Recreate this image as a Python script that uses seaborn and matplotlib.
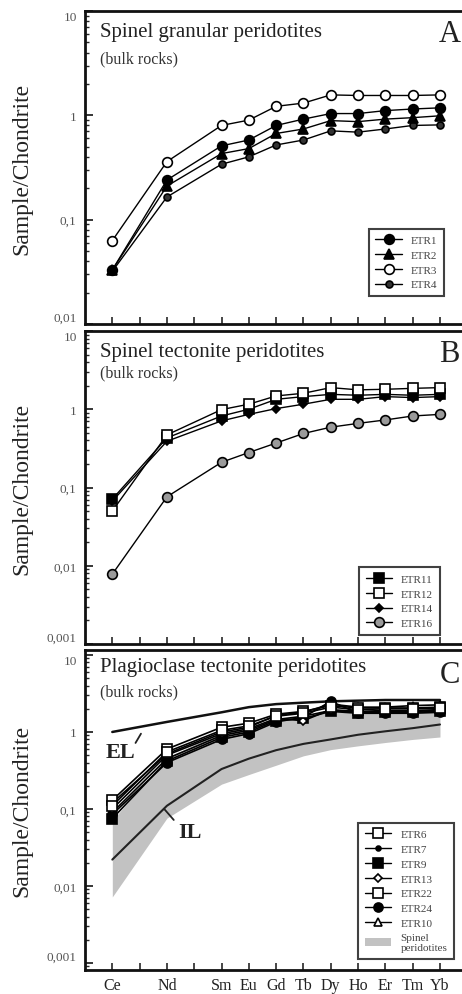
import matplotlib

matplotlib.use("Agg")
import matplotlib.pyplot as plt  # noqa: E402
from matplotlib.ticker import FixedLocator, FixedFormatter, LogLocator, NullFormatter  # noqa: E402
from matplotlib.patches import Patch  # noqa: E402
from matplotlib.lines import Line2D  # noqa: E402
import numpy as np
import pandas as pd
import seaborn as sns

# REE sequence (Pr and Pm have ticks but no data)
ree_all = ["Ce", "Pr", "Nd", "Pm", "Sm", "Eu", "Gd", "Tb", "Dy", "Ho", "Er", "Tm", "Yb"]
ree = ["Ce", "Nd", "Sm", "Eu", "Gd", "Tb", "Dy", "Ho", "Er", "Tm", "Yb"]

# Panel A - spinel granular peridotites
etr1 = [0.033, 0.24, 0.51, 0.58, 0.80, 0.92, 1.04, 1.04, 1.11, 1.15, 1.18]
etr2 = [0.033, 0.21, 0.43, 0.48, 0.67, 0.74, 0.89, 0.87, 0.92, 0.95, 0.99]
etr3 = [0.063, 0.36, 0.80, 0.90, 1.22, 1.31, 1.57, 1.55, 1.55, 1.55, 1.57]
etr4 = [0.032, 0.165, 0.34, 0.40, 0.52, 0.58, 0.71, 0.69, 0.74, 0.80, 0.81]

# Panel B - spinel tectonite peridotites
etr11 = [0.071, 0.43, 0.82, 1.00, 1.34, 1.45, 1.55, 1.51, 1.55, 1.51, 1.55]
etr12 = [0.050, 0.47, 0.99, 1.16, 1.48, 1.60, 1.89, 1.77, 1.80, 1.85, 1.89]
etr14 = [0.067, 0.39, 0.71, 0.86, 1.02, 1.16, 1.34, 1.34, 1.45, 1.41, 1.45]
etr16 = [0.0078, 0.076, 0.21, 0.28, 0.37, 0.49, 0.59, 0.66, 0.73, 0.82, 0.86]

# Panel C - plagioclase tectonite peridotites
etr6 = [0.13, 0.60, 1.15, 1.30, 1.70, 1.85, 2.20, 2.05, 2.05, 2.05, 2.10]
etr7 = [0.090, 0.45, 0.90, 1.05, 1.45, 1.60, 1.90, 1.80, 1.85, 1.85, 1.90]
etr9 = [0.075, 0.42, 0.85, 1.00, 1.40, 1.50, 1.85, 1.75, 1.80, 1.80, 1.85]
etr13 = [0.10, 0.50, 0.95, 1.10, 1.50, 1.40, 1.95, 1.85, 1.90, 1.90, 1.95]
etr22 = [0.11, 0.55, 1.05, 1.20, 1.60, 1.75, 2.10, 1.95, 2.00, 2.00, 2.05]
etr24 = [0.085, 0.40, 0.80, 0.95, 1.35, 1.55, 2.50, 1.75, 1.75, 1.75, 1.80]
etr10 = [0.12, 0.52, 1.00, 1.15, 1.65, 1.80, 2.30, 2.10, 2.10, 2.20, 2.25]
el_line = [1.00, 1.35, 1.80, 2.10, 2.30, 2.40, 2.50, 2.55, 2.60, 2.60, 2.60]
il_line = [0.022, 0.11, 0.33, 0.45, 0.58, 0.70, 0.80, 0.92, 1.02, 1.12, 1.25]
spinel_low = [0.0072, 0.076, 0.21, 0.28, 0.37, 0.49, 0.59, 0.66, 0.73, 0.80, 0.86]
spinel_high = [0.071, 0.47, 0.99, 1.16, 1.48, 1.60, 1.89, 1.77, 1.80, 1.85, 1.89]

pos = [ree_all.index(e) for e in ree]

sns.set_theme(style="ticks")
plt.rcParams["font.family"] = ["Liberation Serif", "DejaVu Serif"]

fig = plt.figure(figsize=(4.62, 9.95), dpi=100)
W, H = 462, 995
left = 85


def make_ax(top, bottom):
    return fig.add_axes([left / W, 1 - bottom / H, 1 - left / W + 0.002, (bottom - top) / H])


axA = make_ax(12, 325)
axB = make_ax(332, 645)
axC = make_ax(651, 971)

ylab_fmt = {10: "10", 1: "1", 0.1: "0,1", 0.01: "0,01", 0.001: "0,001"}


def style_ax(ax, ylim, show_xlabels):
    ax.set_yscale("log")
    ax.set_ylim(*ylim)
    ax.set_xlim(-1, 12.84)
    for s in ["left", "bottom", "top"]:
        ax.spines[s].set_linewidth(2.0)
        ax.spines[s].set_color("#111111")
    ax.spines["right"].set_visible(False)
    majors = [v for v in [0.001, 0.01, 0.1, 1, 10] if ylim[0] * 0.99 <= v <= ylim[1] * 1.01]
    ax.yaxis.set_major_locator(FixedLocator(majors))
    ax.yaxis.set_major_formatter(FixedFormatter([ylab_fmt[v] for v in majors]))
    ax.yaxis.set_minor_locator(LogLocator(base=10, subs=np.arange(2, 10)))
    ax.yaxis.set_minor_formatter(NullFormatter())
    ax.tick_params(axis="y", which="major", direction="in", length=6, width=1.3,
                   labelsize=9.5, labelcolor="#555555", pad=6)
    ax.tick_params(axis="y", which="minor", direction="in", length=3, width=1.0)
    ticks = ax.yaxis.get_major_ticks()
    ticks[0].label1.set_verticalalignment("bottom")
    ticks[-1].label1.set_verticalalignment("top")
    ax.set_xticks(range(len(ree_all)))
    ax.set_xticklabels(["" if e in ("Pr", "Pm") else e for e in ree_all])
    ax.tick_params(axis="x", direction="in", length=5, width=1.2, labelsize=11.5,
                   labelcolor="#222222", pad=5, labelbottom=show_xlabels)
    ax.set_xlabel("")
    ax.set_ylabel("Sample/Chondrite", fontsize=17, color="#222222")
    ax.yaxis.set_label_coords(-0.14, 0.5)
    ax.set_facecolor("white")


def series(ax, vals, label, marker, face, ms, lw=1.0):
    df = pd.DataFrame({"x": pos, "y": vals})
    sns.lineplot(data=df, x="x", y="y", ax=ax, color="black", lw=lw, marker=marker,
                 markersize=ms, markerfacecolor=face, markeredgecolor="black",
                 markeredgewidth=1.2, label=label, legend=False)


def head(ax, title, letter, ty, by, ly):
    ax.text(0.04, ty, title, transform=ax.transAxes, fontsize=15, va="center", color="#222222")
    ax.text(0.04, by, "(bulk rocks)", transform=ax.transAxes, fontsize=11.5, va="center", color="#333333")
    ax.text(0.965, ly, letter, transform=ax.transAxes, fontsize=22, va="center", ha="center", color="#222222")


def legend(ax, handles, anchor):
    leg = ax.legend(handles=handles, loc="lower right", bbox_to_anchor=anchor, borderaxespad=0,
                    fontsize=8, frameon=True, fancybox=False, handlelength=2.4,
                    labelspacing=0.45, borderpad=0.6, handletextpad=0.8, labelcolor="#444444")
    leg.get_frame().set_edgecolor("#111111")
    leg.get_frame().set_linewidth(1.5)


def h(label, marker, face, ms):
    return Line2D([0], [0], color="black", lw=1.0, marker=marker, markersize=ms,
                  markerfacecolor=face, markeredgecolor="black", markeredgewidth=1.2, label=label)


# Panel A
series(axA, etr4, "ETR4", "o", "#333333", 5)
series(axA, etr2, "ETR2", "^", "black", 6.5)
series(axA, etr1, "ETR1", "o", "black", 7)
series(axA, etr3, "ETR3", "o", "white", 7)
style_ax(axA, (0.01, 10), False)
head(axA, "Spinel granular peridotites", "A", 0.933, 0.85, 0.927)
legend(axA, [h("ETR1", "o", "black", 7), h("ETR2", "^", "black", 6.5),
             h("ETR3", "o", "white", 7), h("ETR4", "o", "#333333", 5)], (0.95, 0.089))

# Panel B
series(axB, etr16, "ETR16", "o", "#9a9a9a", 7)
series(axB, etr14, "ETR14", "D", "black", 4.5)
series(axB, etr11, "ETR11", "s", "black", 6.5)
series(axB, etr12, "ETR12", "s", "white", 6.5)
style_ax(axB, (0.001, 10), False)
head(axB, "Spinel tectonite peridotites", "B", 0.936, 0.867, 0.927)
legend(axB, [h("ETR11", "s", "black", 6.5), h("ETR12", "s", "white", 6.5),
             h("ETR14", "D", "black", 4.5), h("ETR16", "o", "#9a9a9a", 7)], (0.939, 0.029))

# Panel C
axC.fill_between(pos, spinel_low, spinel_high, color="#c2c2c2", lw=0, zorder=0.5)
sns.lineplot(x=pos, y=il_line, ax=axC, color="#222222", lw=1.5, legend=False)
sns.lineplot(x=pos, y=el_line, ax=axC, color="#111111", lw=1.8, legend=False)
series(axC, etr24, "ETR24", "o", "black", 6.5, 1.2)
series(axC, etr9, "ETR9", "s", "black", 6.5, 1.2)
series(axC, etr7, "ETR7", "o", "black", 3.5, 1.2)
series(axC, etr13, "ETR13", "D", "white", 4.5, 1.2)
series(axC, etr10, "ETR10", "^", "white", 6, 1.2)
series(axC, etr6, "ETR6", "s", "white", 6.5, 1.2)
series(axC, etr22, "ETR22", "s", "white", 6.5, 1.2)
style_ax(axC, (0.00081, 11.6), True)
head(axC, "Plagioclase tectonite peridotites", "C", 0.947, 0.872, 0.922)
axC.text(0.3, 0.55, "EL", fontsize=16, fontweight="bold", color="#222222",
         ha="center", va="center")
axC.annotate("", xy=(1.05, 0.95), xytext=(0.85, 0.72), xycoords="data", textcoords="data",
             arrowprops=dict(arrowstyle="-", color="#222222", lw=1.3, shrinkA=0, shrinkB=0))
axC.text(2.86, 0.05, "IL", fontsize=16, fontweight="bold", color="#222222", ha="center", va="center")
axC.annotate("", xy=(1.9, 0.1), xytext=(2.25, 0.072), xycoords="data", textcoords="data",
             arrowprops=dict(arrowstyle="-", color="#222222", lw=1.3, shrinkA=0, shrinkB=0))
legend(axC, [h("ETR6", "s", "white", 6.5), h("ETR7", "o", "black", 3.5),
             h("ETR9", "s", "black", 6.5), h("ETR13", "D", "white", 4.5),
             h("ETR22", "s", "white", 6.5), h("ETR24", "o", "black", 6.5),
             h("ETR10", "^", "white", 6),
             Patch(facecolor="#c2c2c2", edgecolor="none", label="Spinel\nperidotites")],
       (0.976, 0.034))

fig.savefig("out.png", dpi=100, facecolor="white")
